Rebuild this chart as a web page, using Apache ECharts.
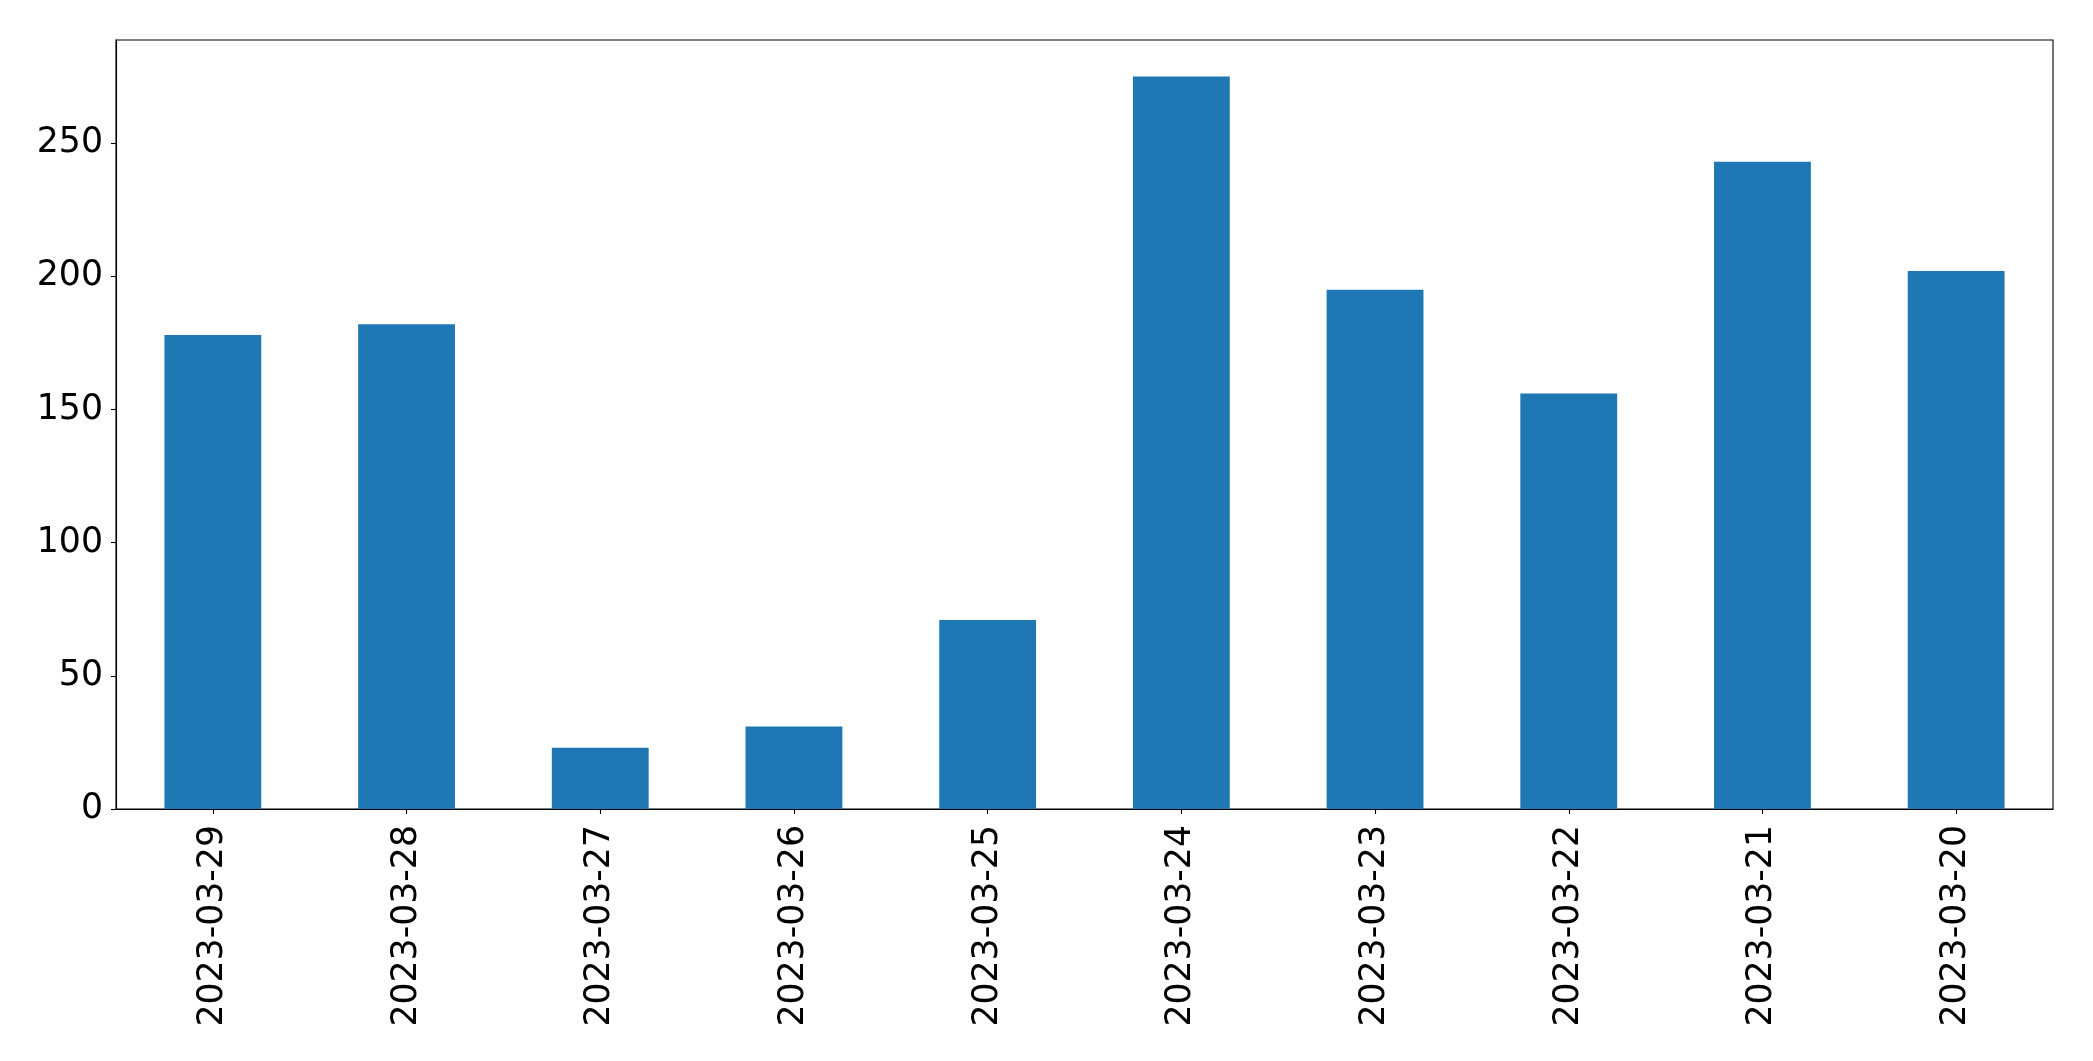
<!DOCTYPE html>
<html>
<head>
<meta charset="utf-8">
<script src="https://cdn.jsdelivr.net/npm/echarts@6/dist/echarts.min.js"></script>
<style>
html,body{margin:0;padding:0;background:#fff;}
#chart{width:2093px;height:1061px;}
</style>
</head>
<body>
<div id="chart"></div>
<script>
const categories = ['2023-03-29','2023-03-28','2023-03-27','2023-03-26','2023-03-25','2023-03-24','2023-03-23','2023-03-22','2023-03-21','2023-03-20'];
const values = [178, 182, 23, 31, 71, 275, 195, 156, 243, 202];
const yTicks = [0, 50, 100, 150, 200, 250];

const chart = echarts.init(document.getElementById('chart'), null, {renderer: 'canvas'});
const font = 'DejaVu Sans';
chart.setOption({
  animation: false,
  backgroundColor: '#ffffff',
  grid: {
    left: 116, right: 40, top: 40, bottom: 252,
    show: true, borderColor: '#000', borderWidth: 1.1, backgroundColor: 'transparent'
  },
  xAxis: {
    type: 'category',
    data: categories,
    boundaryGap: true,
    axisLine: {show: true, lineStyle: {color: '#000', width: 1.1}},
    axisTick: {show: true, alignWithLabel: true, length: 5, lineStyle: {color: '#000', width: 1.1}},
    axisLabel: {rotate: 90, margin: 16, color: '#000', fontFamily: font, fontSize: 34.7, interval: 0},
    splitLine: {show: false}
  },
  yAxis: {
    type: 'value',
    min: 0,
    max: 288.75,
    interval: 50,
    axisLine: {show: true, lineStyle: {color: '#000', width: 1.1}},
    axisTick: {show: true, length: 5, customValues: yTicks, lineStyle: {color: '#000', width: 1.1}},
    axisLabel: {margin: 13, color: '#000', fontFamily: font, fontSize: 34.7, customValues: yTicks},
    splitLine: {show: false}
  },
  series: [{
    type: 'bar',
    data: values,
    barWidth: '50%',
    itemStyle: {color: '#1f77b4'}
  }]
});
</script>
</body>
</html>
